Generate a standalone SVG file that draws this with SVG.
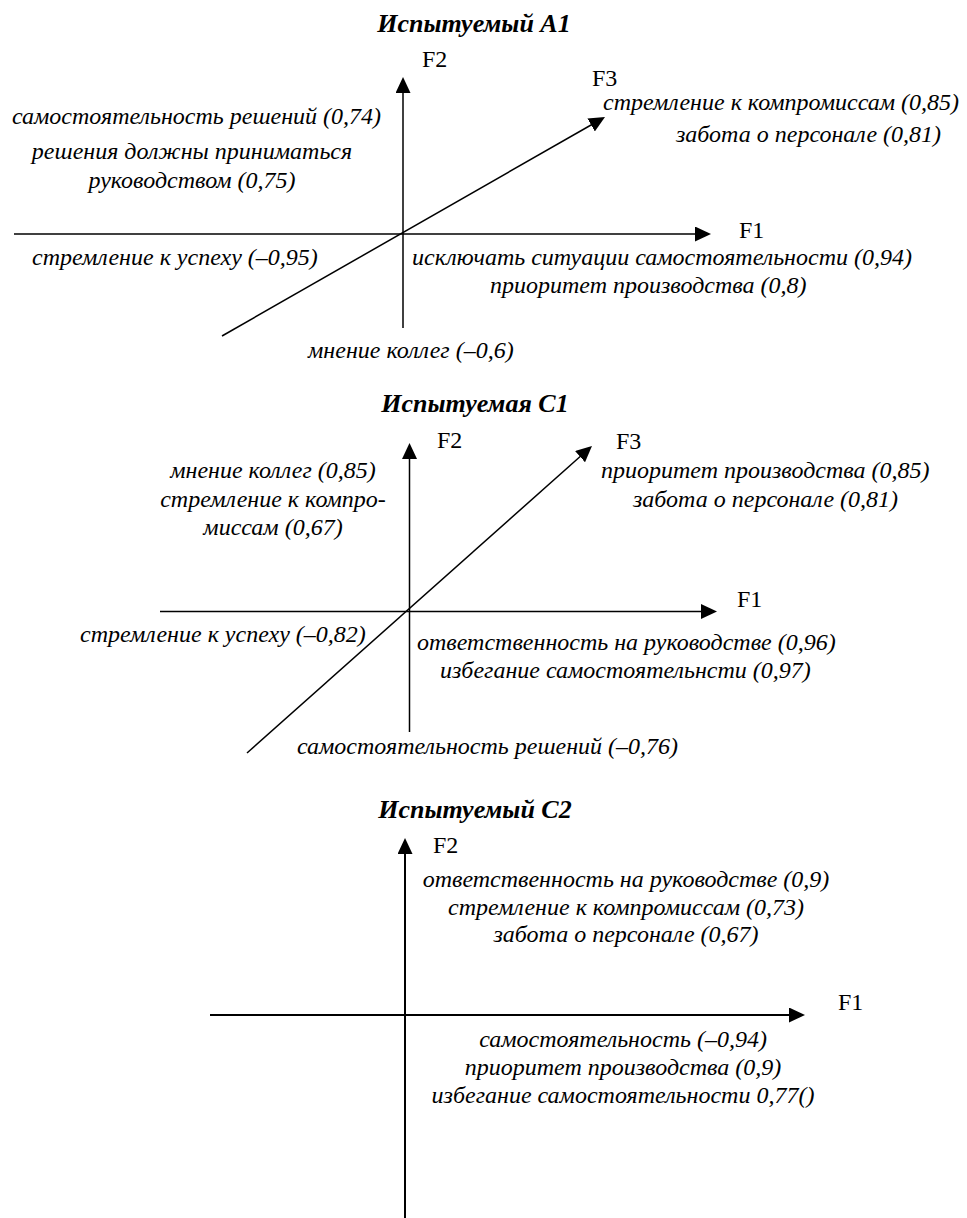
<svg xmlns="http://www.w3.org/2000/svg" width="967" height="1218" viewBox="0 0 967 1218">
<style>
text{font-family:"Liberation Serif","Times New Roman",serif;fill:#000}
.t{font-size:26px;font-weight:bold;font-style:italic;text-anchor:middle}
.f{font-size:24px}
.l{font-size:24px;font-style:italic}
.m{text-anchor:middle}
.ax{stroke:#000;stroke-width:1.5;fill:none}
.ax2{stroke:#000;stroke-width:2;fill:none}
</style>
<defs>
<marker id="ah" viewBox="0 0 16 15" refX="10" refY="7.5" markerWidth="16" markerHeight="15" markerUnits="userSpaceOnUse" orient="auto">
<path d="M0,0 L16,7.5 L0,15 z" fill="#000"/>
</marker>
</defs>
<rect width="967" height="1218" fill="#fff"/>

<g id="chart-a1">
<text class="t" x="474" y="32">Испытуемый А1</text>
<g id="connectors-a1">
<line class="ax" x1="403" y1="328" x2="403" y2="83" marker-end="url(#ah)"/>
<line class="ax" x1="14" y1="234" x2="705" y2="234" marker-end="url(#ah)"/>
<line class="ax" x1="222" y1="336" x2="599.8" y2="120" marker-end="url(#ah)"/>
</g>
<text class="f" x="422" y="67">F2</text>
<text class="f" x="739" y="238">F1</text>
<text class="f" x="592" y="86">F3</text>
<text class="l" x="12" y="124">самостоятельность решений (0,74)</text>
<text class="l m" x="192" y="159">решения должны приниматься</text>
<text class="l m" x="192" y="188">руководством (0,75)</text>
<text class="l" x="32" y="265">стремление к успеху (–0,95)</text>
<text class="l" x="412" y="265">исключать ситуации самостоятельности (0,94)</text>
<text class="l" x="490" y="293">приоритет производства (0,8)</text>
<text class="l" x="308" y="358">мнение коллег (–0,6)</text>
<text class="l" x="603" y="110">стремление к компромиссам (0,85)</text>
<text class="l" x="676" y="142">забота о персонале (0,81)</text>
</g>

<g id="chart-c1">
<text class="t" x="475" y="412">Испытуемая С1</text>
<g id="connectors-c1">
<line class="ax" x1="409.5" y1="732" x2="409.5" y2="449" marker-end="url(#ah)"/>
<line class="ax" x1="160" y1="611.5" x2="711" y2="611.5" marker-end="url(#ah)"/>
<line class="ax" x1="247" y1="753" x2="587.5" y2="450" marker-end="url(#ah)"/>
</g>
<text class="f" x="437" y="448">F2</text>
<text class="f" x="737" y="607">F1</text>
<text class="f" x="616" y="449">F3</text>
<text class="l m" x="273" y="478">мнение коллег (0,85)</text>
<text class="l m" x="273" y="507">стремление к компро-</text>
<text class="l m" x="273" y="535">миссам (0,67)</text>
<text class="l" x="601" y="478">приоритет производства (0,85)</text>
<text class="l" x="633" y="507">забота о персонале (0,81)</text>
<text class="l" x="80" y="642">стремление к успеху (–0,82)</text>
<text class="l" x="417" y="650">ответственность на руководстве (0,96)</text>
<text class="l" x="440" y="678">избегание самостоятельнсти (0,97)</text>
<text class="l" x="297" y="754">самостоятельность решений (–0,76)</text>
</g>

<g id="chart-c2">
<text class="t" x="475" y="818">Испытуемый С2</text>
<g id="connectors-c2">
<line class="ax2" x1="405" y1="1218" x2="405" y2="844" marker-end="url(#ah)"/>
<line class="ax2" x1="210" y1="1015" x2="799" y2="1015" marker-end="url(#ah)"/>
</g>
<text class="f" x="433" y="853">F2</text>
<text class="f" x="838" y="1010">F1</text>
<text class="l m" x="626" y="887">ответственность на руководстве (0,9)</text>
<text class="l m" x="626" y="915">стремление к компромиссам (0,73)</text>
<text class="l m" x="626" y="942">забота о персонале (0,67)</text>
<text class="l m" x="623" y="1047">самостоятельность (–0,94)</text>
<text class="l m" x="623" y="1075">приоритет производства (0,9)</text>
<text class="l m" x="623" y="1103">избегание самостоятельности 0,77()</text>
</g>
</svg>
